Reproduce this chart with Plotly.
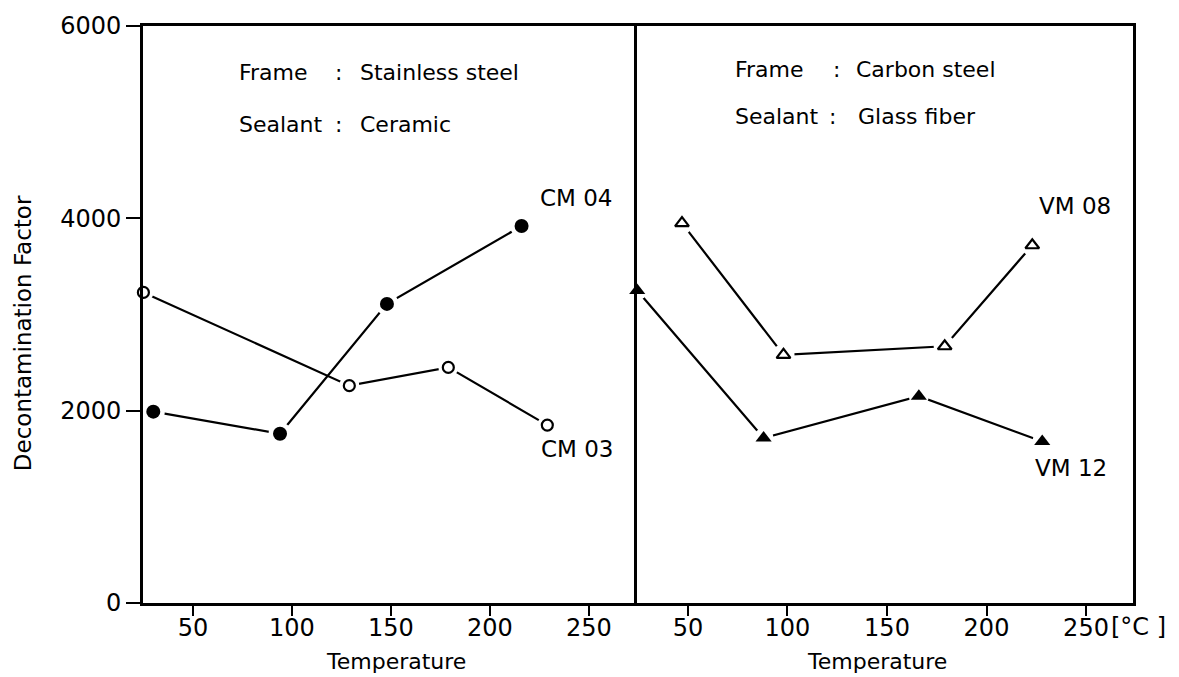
import plotly.graph_objects as go

# ---------------- data ----------------
cm04_T = [30, 94, 148, 216]
cm04_DF = [1990, 1760, 3110, 3920]
cm03_T = [25, 129, 179, 229]
cm03_DF = [3230, 2260, 2450, 1850]

vm08_T = [47, 98, 179, 223]
vm08_DF = [3950, 2580, 2670, 3720]
vm12_T = [24.5, 88, 166, 228]
vm12_DF = [3250, 1715, 2150, 1680]

x_ticks = [50, 100, 150, 200, 250]
y_ticks = [0, 2000, 4000, 6000]

FONT = "DejaVu Sans"
BLACK = "black"

fig = go.Figure()


def add_series(T, DF, symbol, halo, msize, xa, ya, filled):
    fig.add_trace(go.Scatter(x=T, y=DF, mode="lines", xaxis=xa, yaxis=ya,
                             line=dict(color=BLACK, width=2.2), hoverinfo="skip",
                             showlegend=False))
    fig.add_trace(go.Scatter(x=T, y=DF, mode="markers", xaxis=xa, yaxis=ya,
                             marker=dict(symbol="circle", size=halo, color="white",
                                         line=dict(width=0)),
                             cliponaxis=False, hoverinfo="skip", showlegend=False))
    if filled:
        mk = dict(symbol=symbol, size=msize, color=BLACK, line=dict(width=0))
    else:
        mk = dict(symbol=symbol, size=msize, color="white",
                  line=dict(width=2.2, color=BLACK))
    fig.add_trace(go.Scatter(x=T, y=DF, mode="markers", xaxis=xa, yaxis=ya,
                             marker=mk, cliponaxis=False, showlegend=False))


add_series(cm03_T, cm03_DF, "circle", 20, 11, "x", "y", False)
add_series(cm04_T, cm04_DF, "circle", 23, 14, "x", "y", True)
add_series(vm08_T, vm08_DF, "triangle-up", 22, 12, "x2", "y2", False)
add_series(vm12_T, vm12_DF, "triangle-up", 20, 14, "x2", "y2", True)

tickfont = dict(family=FONT, size=24, color=BLACK)
xcommon = dict(showline=True, linecolor=BLACK, linewidth=2.8, mirror=True,
               ticks="outside", ticklen=10, tickwidth=2.2, tickcolor=BLACK,
               tickvals=x_ticks, tickfont=tickfont, showgrid=False,
               zeroline=False, ticklabelstandoff=-9)

fig.update_layout(
    width=1179, height=677,
    margin=dict(l=143, r=46, t=18, b=74),
    paper_bgcolor="white", plot_bgcolor="white",
    xaxis=dict(domain=[0, 0.499], range=[24.8, 274.3], anchor="y", **xcommon),
    xaxis2=dict(domain=[0.499, 1], range=[24.4, 273.6], anchor="y2", **xcommon),
    yaxis=dict(range=[0, 6000], tickvals=y_ticks, ticks="outside", ticklen=14,
               tickwidth=2.2, tickcolor=BLACK, tickfont=tickfont,
               showline=True, linecolor=BLACK, linewidth=2.8, mirror=False,
               showgrid=False, zeroline=False, anchor="x"),
    yaxis2=dict(range=[0, 6000], matches="y", showticklabels=False, ticks="",
                showline=True, linecolor=BLACK, linewidth=2.8, mirror=True,
                showgrid=False, zeroline=False, anchor="x2"),
    showlegend=False,
)

tf = dict(family=FONT, size=22, color=BLACK)
ann = []


def txt(text, x, y, xref, yref, xanchor="left", yanchor="middle", font=tf, angle=0):
    ann.append(dict(text=text, x=x, y=y, xref=xref, yref=yref, xanchor=xanchor,
                    yanchor=yanchor, showarrow=False, font=font, textangle=angle))


# panel headers
txt("Frame", 72.3, 5520, "x", "y")
txt(":", 123.4, 5520, "x", "y", xanchor="center")
txt("Stainless steel", 133.5, 5520, "x", "y")
txt("Sealant", 72.3, 4980, "x", "y")
txt(":", 123.4, 4980, "x", "y", xanchor="center")
txt("Ceramic", 133.5, 4980, "x", "y")

txt("Frame", 72.8, 5550, "x2", "y2")
txt(":", 124.4, 5550, "x2", "y2", xanchor="center")
txt("Carbon steel", 133.4, 5550, "x2", "y2")
txt("Sealant", 72.8, 5060, "x2", "y2")
txt(":", 122.7, 5060, "x2", "y2", xanchor="center")
txt("Glass fiber", 134.2, 5060, "x2", "y2")

# series labels
lf = dict(family=FONT, size=23, color=BLACK)
txt("CM 04", 243.5, 4210, "x", "y", xanchor="center", font=lf)
txt("CM 03", 244, 1600, "x", "y", xanchor="center", font=lf)
txt("VM 08", 244.5, 4125, "x2", "y2", xanchor="center", font=lf)
txt("VM 12", 242.5, 1400, "x2", "y2", xanchor="center", font=lf)

# axis titles
txt("Temperature", 152.6, -0.101, "x", "paper", xanchor="center", font=tf)
txt("Temperature", 145, -0.101, "x2", "paper", xanchor="center", font=tf)
txt("Decontamination Factor", -0.121, 0.468, "paper", "paper", xanchor="center",
    font=dict(family=FONT, size=23, color=BLACK), angle=-90)
txt("[°C ]", 261.5, -0.041, "x2", "paper", xanchor="left", font=tickfont)

fig.update_layout(annotations=ann)

fig.write_html("out.html")
